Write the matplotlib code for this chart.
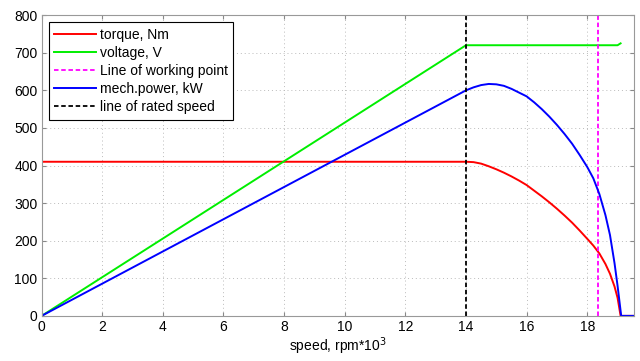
import matplotlib
matplotlib.use("Agg")
import matplotlib.pyplot as plt

# --- DATA ---
speed_torque = [0, 14, 14.25, 14.5, 14.75, 15, 15.25, 15.5, 15.75, 16, 16.25, 16.5, 16.75,
                17, 17.25, 17.5, 17.75, 18, 18.2, 18.4, 18.6, 18.75, 18.9, 19.0, 19.1, 19.55]
torque = [410, 410, 409, 405, 398, 390, 381, 371, 360, 348, 333, 318, 302,
          285, 267, 248, 227, 205, 187, 166, 138, 112, 78, 48, 0, 0]

speed_voltage = [0, 14, 19.0, 19.1]
voltage = [0, 720, 720, 725]

speed_power = [0, 14, 14.25, 14.5, 14.75, 15, 15.25, 15.5, 15.75, 16, 16.25, 16.5, 16.75,
               17, 17.25, 17.5, 17.75, 18, 18.2, 18.4, 18.6, 18.75, 18.9, 19.0, 19.12, 19.55]
power = [0, 600, 608, 614, 617, 616, 612, 604, 594, 584, 568, 550, 530,
         508, 484, 458, 428, 396, 366, 324, 268, 215, 140, 80, 0, 0]

working_point = 18.37
rated_speed = 14

plt.rcParams['font.family'] = ['Liberation Sans', 'DejaVu Sans']

fig = plt.figure(figsize=(6.4, 3.61), dpi=100)
ax = fig.add_axes([0.065, 0.125, 0.926, 0.833])

ax.plot(speed_torque, torque, color='#ff0000', lw=1.4, label='torque, Nm')
ax.plot(speed_voltage, voltage, color='#00ee00', lw=1.4, label='voltage, V')
ax.plot([working_point, working_point], [0, 800], color='#ff00ff', lw=1.3,
        linestyle=(0, (2.5, 1.5)), label='Line of working point')
ax.plot(speed_power, power, color='#0000ff', lw=1.4, label='mech.power, kW')
ax.plot([rated_speed, rated_speed], [0, 800], color='black', lw=1.3,
        linestyle=(0, (2.5, 1.5)), label='line of rated speed')

ax.set_xlim(0, 19.55)
ax.set_ylim(0, 800)
ax.set_xticks(range(0, 19, 2))
ax.set_yticks(range(0, 801, 100))
ax.tick_params(direction='in', top=True, right=True, labelsize=10, length=3,
               color='#888888', pad=3)
for s in ax.spines.values():
    s.set_color('#999999')
ax.grid(True, linestyle=(0, (1, 3)), color='#bbbbbb', lw=0.7)

ax.set_xlabel('speed, rpm*10$^3$', fontsize=10, labelpad=1)

leg = ax.legend(loc='upper left', fontsize=10, fancybox=False, framealpha=1,
                edgecolor='black', handlelength=3.0, handletextpad=0.3,
                borderpad=0.4, labelspacing=0.3, borderaxespad=0.5)
leg.get_frame().set_linewidth(0.8)

fig.savefig('out.png', dpi=100)
